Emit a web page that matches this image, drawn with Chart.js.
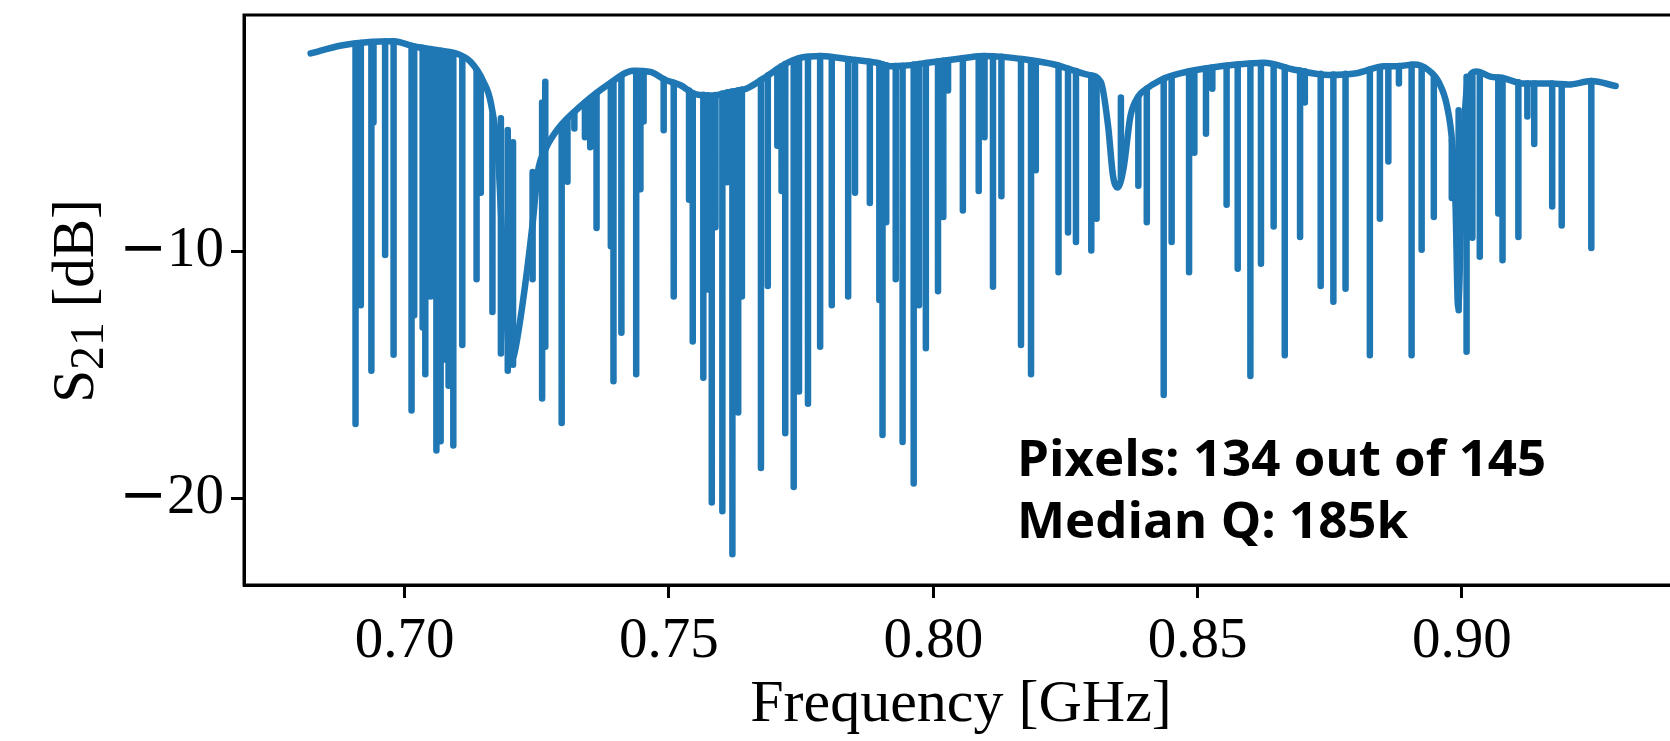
<!DOCTYPE html>
<html>
<head>
<meta charset="utf-8">
<script src="https://cdn.jsdelivr.net/npm/chart.js@4.4.1/dist/chart.umd.min.js"></script>
<style>
  html, body { margin: 0; padding: 0; background: #fff; overflow: hidden; width: 1670px; height: 741px; }
  canvas { display: block; }
</style>
</head>
<body>
<canvas id="c" width="1692" height="741"></canvas>
<script>
// Transmission baseline of the feedline (GHz, dB)
const baseFreq = [0.6822,0.6880,0.6933,0.6979,0.7018,0.7068,0.7101,0.7125,0.7148,0.7163,0.7177,0.7185,0.7193,0.7200,0.7207,0.7222,0.7242,0.7252,0.7266,0.7292,0.7332,0.7383,0.7433,0.7465,0.7491,0.7522,0.7548,0.7581,0.7614,0.7646,0.7679,0.7718,0.7749,0.7788,0.7841,0.7893,0.7919,0.7945,0.7989,0.8041,0.8094,0.8133,0.8172,0.8229,0.8294,0.8317,0.8331,0.8340,0.8349,0.8360,0.8373,0.8389,0.8399,0.8430,0.8469,0.8521,0.8574,0.8626,0.8683,0.8748,0.8801,0.8853,0.8877,0.8910,0.8936,0.8956,0.8972,0.8982,0.8988,0.8993,0.9001,0.9011,0.9028,0.9054,0.9081,0.9091,0.9117,0.9169,0.9202,0.9245,0.9291];
const baseLevel = [-2.0,-1.68,-1.54,-1.51,-1.72,-1.89,-2.03,-2.35,-3.1,-4.0,-6.3,-9.7,-12.8,-14.5,-14.2,-12.3,-8.9,-6.8,-5.9,-5.0,-4.15,-3.29,-2.7,-2.75,-3.05,-3.29,-3.64,-3.71,-3.57,-3.43,-3.01,-2.45,-2.17,-2.1,-2.24,-2.38,-2.52,-2.5,-2.38,-2.24,-2.1,-2.14,-2.24,-2.45,-2.87,-3.15,-4.97,-6.94,-7.43,-6.66,-4.55,-3.71,-3.5,-3.08,-2.8,-2.59,-2.45,-2.38,-2.66,-2.87,-2.8,-2.52,-2.52,-2.45,-2.66,-3.15,-4.13,-5.67,-8.06,-12.26,-6.66,-3.15,-2.73,-2.94,-3.01,-3.08,-3.22,-3.22,-3.26,-3.12,-3.32];

// Resonator dips hanging from the baseline (GHz, minimum dB)
const dipFreq = [0.6907,0.6917,0.6937,0.6941,0.6963,0.6979,0.7013,0.7018,0.7034,0.7039,0.7049,0.7060,0.7068,0.7073,0.7083,0.7092,0.7109,0.7136,0.7144,0.7166,
  0.7297,0.7308,0.7321,0.7341,0.7351,0.7363,0.7390,0.7395,0.7410,0.7438,0.7446,0.7452,0.7490,
  0.7509,0.7538,0.7545,0.7565,0.7574,0.7581,0.7588,0.7601,0.7610,0.7620,0.7631,0.7638,0.7674,0.7687,0.7705,0.7713,
  0.7720,0.7736,0.7746,0.7763,0.7786,0.7808,0.7839,0.7852,0.7880,0.7898,0.7904,0.7911,0.7929,0.7942,
  0.7963,0.7973,0.7986,0.8009,0.8019,0.8028,0.8056,0.8086,0.8097,0.8113,0.8129,0.8166,
  0.8185,0.8194,0.8237,0.8255,0.8270,0.8299,0.8309,0.8388,
  0.8404,0.8436,0.8451,0.8484,0.8494,0.8516,0.8528,0.8555,0.8576,0.8600,0.8620,
  0.8644,0.8665,0.8694,0.8703,0.8733,0.8757,0.8780,0.8826,0.8845,
  0.8861,0.8881,0.8905,0.8924,0.8947,0.8981,0.9020,0.9034,0.9069,
  0.9077,0.9107,0.9124,0.9137,0.9171,0.9189,0.9245];
const dipDepth = [-17.0,-12.2,-14.85,-4.8,-10.16,-14.2,-16.46,-12.6,-13.1,-14.99,-11.84,-18.08,-17.7,-14.4,-15.45,-17.87,-13.8,-11.14,-7.64,-12.47,
  -16.96,-7.2,-5.04,-5.39,-5.8,-9.07,-9.81,-15.27,-13.31,-14.99,-7.5,-4.76,-5.11,
  -11.84,-7.92,-13.66,-15.13,-11.56,-20.18,-9.04,-20.53,-7.22,-22.28,-16.54,-11.84,-18.78,-11.42,-5.74,-7.57,
  -17.38,-19.55,-15.69,-16.18,-13.87,-12.19,-11.84,-7.64,-8.06,-11.98,-17.45,-8.83,-11.14,-17.73,
  -19.41,-12.19,-13.94,-11.63,-8.62,-3.5,-8.36,-7.57,-5.39,-11.45,-7.78,-13.8,
  -14.99,-6.73,-10.86,-9.25,-9.63,-9.98,-8.69,-7.36,
  -8.83,-15.83,-9.63,-10.86,-6.02,-5.25,-3.43,-8.13,-10.72,-15.06,-10.51,
  -9.01,-14.22,-9.43,-3.99,-11.42,-12.05,-11.53,-14.22,-8.69,
  -6.38,-3.22,-14.22,-9.95,-8.62,-7.85,-9.46,-10.23,-8.48,
  -10.37,-9.43,-4.55,-5.67,-8.2,-8.97,-9.88];

// Dips measured on the steep flanks, whose sweep starts above the baseline (GHz, top dB, minimum dB)
const raisedFreq  = [0.7182,0.7195,0.7205,0.7242,0.7260,0.7266,0.8355,0.8994,0.9009];
const raisedTop   = [-4.62,-5.1,-5.6,-6.8,-3.99,-3.15,-3.78,-4.3,-2.94];
const raisedDepth = [-14.15,-14.85,-14.6,-11.14,-15.97,-13.87,-7.07,-12.4,-14.08];

const xTicks = [0.70, 0.75, 0.80, 0.85, 0.90];
const yTicks = [-20, -10];
const noteLines = ['Pixels: 134 out of 145', 'Median Q: 185k'];

const BLUE = '#1f77b4';
const SERIF = '"Liberation Serif", "Times New Roman", serif';

function levelAt(f) {
  if (f <= baseFreq[0]) return baseLevel[0];
  for (let i = 1; i < baseFreq.length; i++) {
    if (f <= baseFreq[i]) {
      const t = (f - baseFreq[i - 1]) / (baseFreq[i] - baseFreq[i - 1]);
      return baseLevel[i - 1] + t * (baseLevel[i] - baseLevel[i - 1]);
    }
  }
  return baseLevel[baseLevel.length - 1];
}

const baselinePts = baseFreq.map((f, i) => ({ x: f, y: baseLevel[i] }));
const dipPts = [];
dipFreq.forEach((f, i) => {
  dipPts.push({ x: f, y: levelAt(f) }, { x: f, y: dipDepth[i] }, { x: f, y: null });
});
raisedFreq.forEach((f, i) => {
  dipPts.push({ x: f, y: raisedTop[i] }, { x: f, y: raisedDepth[i] }, { x: f, y: null });
});

const lineStyle = {
  showLine: true, pointRadius: 0, borderColor: BLUE, backgroundColor: BLUE,
  borderWidth: 6.5, borderCapStyle: 'round', borderJoinStyle: 'round', spanGaps: false, fill: false
};

const framePlugin = {
  id: 'frame',
  afterDraw(chart) {
    const { ctx, chartArea: a } = chart;
    const yScale = chart.scales.y;
    ctx.save();
    ctx.strokeStyle = '#000';
    ctx.lineWidth = 3;
    ctx.strokeRect(a.left, a.top, a.right - a.left, a.bottom - a.top);

    // y tick labels: mathtext-style minus followed by serif digits
    ctx.fillStyle = '#000';
    ctx.textBaseline = 'middle';
    yTicks.forEach(v => {
      const py = yScale.getPixelForValue(v);
      const digits = String(Math.abs(v));
      ctx.font = '57px ' + SERIF;
      const wd = ctx.measureText(digits).width;
      const right = a.left - 13 - 7;
      ctx.textAlign = 'right';
      ctx.fillText(digits, right, py);
      ctx.font = '57px "DejaVu Sans"';
      ctx.fillText('\u2212', right - wd, py);
    });
    ctx.restore();

    // y-axis title with subscript
    ctx.save();
    ctx.translate(93, 301);
    ctx.rotate(-Math.PI / 2);
    ctx.fillStyle = '#000';
    ctx.textBaseline = 'alphabetic';
    const big = '59px ' + SERIF, small = '48px ' + SERIF;
    ctx.font = big; const wS = ctx.measureText('S').width;
    ctx.font = small; const w21 = ctx.measureText('21').width;
    ctx.font = big; const wRest = ctx.measureText(' [dB]').width;
    let x = -(wS + w21 + wRest) / 2;
    ctx.textAlign = 'left';
    ctx.font = big; ctx.fillText('S', x, 0); x += wS;
    ctx.font = small; ctx.fillText('21', x, 10); x += w21;
    ctx.font = big; ctx.fillText(' [dB]', x, 0);
    ctx.restore();

    // summary text
    ctx.save();
    ctx.fillStyle = '#000';
    ctx.font = '700 51px "Open Sans", sans-serif';
    ctx.textBaseline = 'alphabetic';
    ctx.textAlign = 'left';
    ctx.fillText(noteLines[0], 1017, 476);
    ctx.fillText(noteLines[1], 1017, 538);
    ctx.restore();
  }
};

new Chart(document.getElementById('c'), {
  type: 'scatter',
  data: {
    datasets: [
      Object.assign({ data: dipPts }, lineStyle),
      Object.assign({ data: baselinePts, cubicInterpolationMode: 'monotone' }, lineStyle)
    ]
  },
  options: {
    responsive: false,
    animation: false,
    devicePixelRatio: 1,
    layout: { padding: { left: 0, top: 15, right: 14, bottom: 0 } },
    plugins: { legend: { display: false }, tooltip: { enabled: false } },
    scales: {
      x: {
        type: 'linear', min: 0.6696, max: 0.9409,
        afterBuildTicks: s => { s.ticks = xTicks.map(v => ({ value: v })); },
        afterFit: s => { s.height = 156; s.paddingLeft = 0; s.paddingRight = 0; },
        ticks: { callback: v => v.toFixed(2), font: { family: SERIF, size: 57 }, color: '#000', padding: 10, maxRotation: 0, autoSkip: false },
        grid: { display: true, drawOnChartArea: false, drawTicks: true, tickLength: 13, tickWidth: 3, tickColor: '#000' },
        border: { display: true, color: '#000', width: 3 },
        title: { display: true, text: 'Frequency [GHz]', font: { family: SERIF, size: 60 }, color: '#000', padding: { top: 0, bottom: 0 } }
      },
      y: {
        type: 'linear', min: -23.52, max: -0.445,
        afterBuildTicks: s => { s.ticks = yTicks.map(v => ({ value: v })); },
        afterFit: s => { s.width = 244; s.paddingTop = 0; s.paddingBottom = 0; },
        ticks: { display: false },
        grid: { display: true, drawOnChartArea: false, drawTicks: true, tickLength: 13, tickWidth: 3, tickColor: '#000' },
        border: { display: true, color: '#000', width: 3 }
      }
    }
  },
  plugins: [framePlugin]
});
</script>
</body>
</html>
